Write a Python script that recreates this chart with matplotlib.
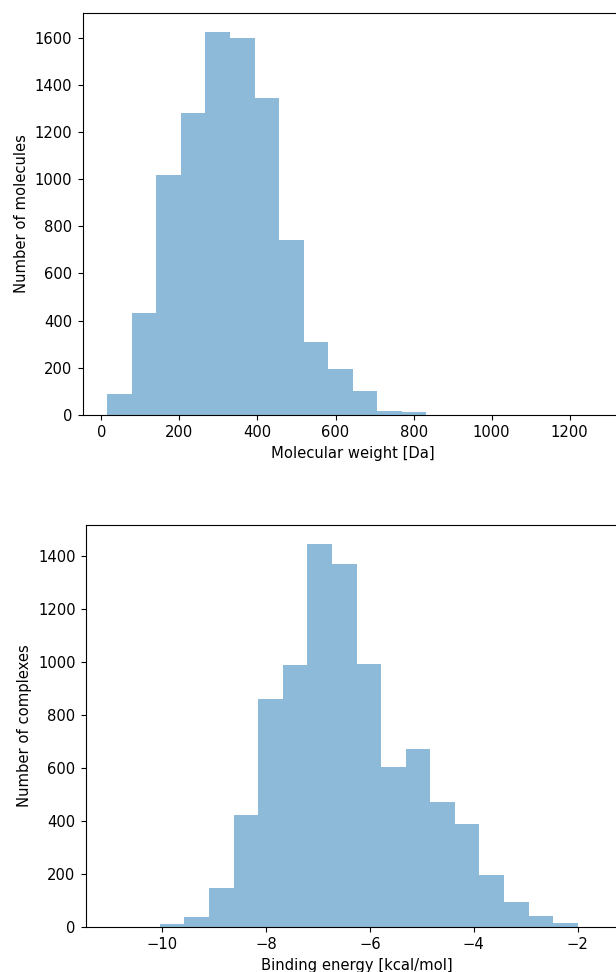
import numpy as np
import matplotlib
matplotlib.use("Agg")
import matplotlib.pyplot as plt

# Molecular weight histogram (20 bins)
mw_start = 15.0
mw_width = 62.9
mw_counts = [89, 434, 1017, 1280, 1624, 1600, 1345, 740, 311, 194, 102, 17, 13,
             0, 0, 0, 0, 0, 0, 0]

# Binding energy histogram (20 bins)
be_start = -11.0
be_width = 0.474
be_counts = [0, 0, 10, 36, 145, 423, 859, 986, 1444, 1370, 991, 604, 669, 472,
             387, 194, 93, 40, 14, 0]

color = '#1f77b4'
fs = 10.6

fig = plt.figure(figsize=(6.16, 9.72), dpi=100)

def draw(ax, start, width, counts, xlabel, ylabel):
    edges = start + width * np.arange(len(counts) + 1)
    centers = (edges[:-1] + edges[1:]) / 2
    ax.hist(centers, bins=edges, weights=counts, color=color, alpha=0.5)
    ax.set_xlim(edges[0] - 0.05 * (edges[-1] - edges[0]),
                edges[-1] + 0.05 * (edges[-1] - edges[0]))
    ax.set_xlabel(xlabel, fontsize=fs, labelpad=4.2)
    ax.set_ylabel(ylabel, fontsize=fs, labelpad=4.2)
    ax.tick_params(labelsize=fs, length=3.7, pad=3.8)

ax1 = fig.add_axes([82.7 / 616, 1 - 415 / 972, 540 / 616, 402.3 / 972])
draw(ax1, mw_start, mw_width, mw_counts, 'Molecular weight [Da]', 'Number of molecules')
ax1.set_xticks([0, 200, 400, 600, 800, 1000, 1200])

ax2 = fig.add_axes([86 / 616, 1 - 926.7 / 972, 541 / 616, 401.7 / 972])
draw(ax2, be_start, be_width, be_counts, 'Binding energy [kcal/mol]', 'Number of complexes')
ax2.set_xticks([-10, -8, -6, -4, -2])

fig.savefig('out.png', dpi=100)
